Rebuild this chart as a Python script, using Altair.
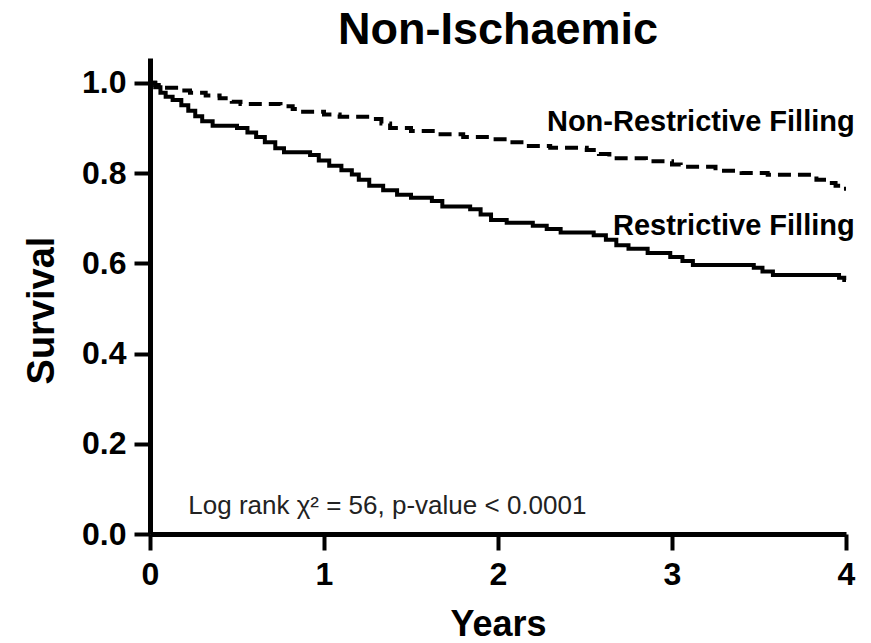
import altair as alt
import pandas as pd

# Kaplan-Meier step data
nr_years = [0, 0.03, 0.08, 0.15, 0.23, 0.32, 0.40, 0.47, 0.52, 0.75, 0.82, 0.86, 1.00, 1.09,
            1.28, 1.33, 1.38, 1.50, 1.65, 1.80, 1.95, 2.05, 2.15, 2.30, 2.51, 2.58, 2.64,
            2.85, 3.00, 3.05, 3.25, 3.40, 3.55, 3.83, 3.90, 3.94, 3.98, 4.00]
nr_surv = [1.0, 0.995, 0.989, 0.983, 0.978, 0.972, 0.966, 0.958, 0.953, 0.948, 0.942, 0.936,
           0.930, 0.925, 0.920, 0.910, 0.900, 0.893, 0.886, 0.880, 0.875, 0.868, 0.860, 0.856,
           0.851, 0.842, 0.833, 0.826, 0.819, 0.814, 0.805, 0.800, 0.796, 0.785, 0.778, 0.772,
           0.765, 0.765]

r_years = [0, 0.03, 0.06, 0.09, 0.13, 0.18, 0.22, 0.26, 0.30, 0.36, 0.50, 0.56, 0.61, 0.66,
           0.72, 0.77, 0.92, 0.97, 1.03, 1.10, 1.16, 1.20, 1.26, 1.34, 1.42, 1.50, 1.62, 1.68,
           1.84, 1.90, 1.96, 2.05, 2.20, 2.28, 2.36, 2.55, 2.62, 2.68, 2.75, 2.86, 2.99, 3.06,
           3.12, 3.47, 3.52, 3.58, 3.96, 3.99, 4.00]
r_surv = [1.0, 0.990, 0.978, 0.969, 0.962, 0.950, 0.938, 0.926, 0.915, 0.905, 0.900, 0.890,
          0.880, 0.868, 0.855, 0.846, 0.840, 0.828, 0.816, 0.806, 0.797, 0.785, 0.772, 0.762,
          0.752, 0.745, 0.738, 0.726, 0.720, 0.708, 0.696, 0.690, 0.683, 0.676, 0.668, 0.662,
          0.652, 0.640, 0.632, 0.623, 0.614, 0.605, 0.596, 0.590, 0.582, 0.574, 0.568, 0.563,
          0.563]

groups = ["Non-Restrictive Filling", "Restrictive Filling"]
x_ticks = [0, 1, 2, 3, 4]
y_ticks = [0.0, 0.2, 0.4, 0.6, 0.8, 1.0]
stat_text = "Log rank χ² = 56, p-value < 0.0001"
title_text = "Non-Ischaemic"

df = pd.concat([
    pd.DataFrame({"Years": nr_years, "Survival": nr_surv, "Group": groups[0]}),
    pd.DataFrame({"Years": r_years, "Survival": r_surv, "Group": groups[1]}),
], ignore_index=True)

FONT = "Liberation Sans"

x_enc = alt.X(
    "Years:Q",
    scale=alt.Scale(domain=[0, 4], nice=False, zero=False),
    axis=alt.Axis(
        values=x_ticks, format="d", grid=False, title="Years",
        domainColor="black", domainWidth=5, tickColor="black", tickWidth=4, tickSize=16,
        labelFont=FONT, labelFontSize=32, labelFontWeight="bold", labelColor="black",
        labelPadding=9, labelFlush=False,
        titleFont=FONT, titleFontSize=36, titleFontWeight="bold", titleColor="black",
        titleX=348, titleY=101, titleBaseline="alphabetic", titleAlign="center",
    ),
)
y_enc = alt.Y(
    "Survival:Q",
    scale=alt.Scale(domain=[0, 1.055], nice=False, zero=True),
    axis=alt.Axis(
        values=y_ticks, format=".1f", grid=False, title="Survival",
        domainColor="black", domainWidth=5, tickColor="black", tickWidth=4, tickSize=16,
        labelFont=FONT, labelFontSize=32, labelFontWeight="bold", labelColor="black",
        labelPadding=8, labelFlush=False,
        titleFont=FONT, titleFontSize=38, titleFontWeight="bold", titleColor="black",
        titleX=-97, titleY=252, titleBaseline="alphabetic", titleAlign="center", titleAngle=270,
    ),
)

lines = alt.Chart(df).mark_line(
    interpolate="step-after", color="black", strokeWidth=4
).encode(
    x=x_enc,
    y=y_enc,
    detail="Group:N",
    strokeDash=alt.StrokeDash(
        "Group:N",
        scale=alt.Scale(domain=groups, range=[[13, 7], [1, 0]]),
        legend=None,
    ),
)

lbl_nr = alt.Chart().mark_text(
    text=groups[0], font=FONT, fontSize=29, fontWeight="bold", color="black",
    align="right", baseline="alphabetic",
).encode(x=alt.datum(4.05), y=alt.datum(0.894))

lbl_r = alt.Chart().mark_text(
    text=groups[1], font=FONT, fontSize=29, fontWeight="bold", color="black",
    align="right", baseline="alphabetic",
).encode(x=alt.datum(4.05), y=alt.datum(0.662))

stat = alt.Chart().mark_text(
    text=stat_text, font=FONT, fontSize=26, color="#222222",
    align="left", baseline="alphabetic",
).encode(x=alt.datum(0.22), y=alt.datum(0.044))

chart = alt.layer(lines, lbl_nr, lbl_r, stat).properties(
    width=696,
    height=476,
    title=alt.Title(title_text, font=FONT, fontSize=45, fontWeight="bold", color="black",
                    anchor="middle", offset=5),
    autosize=alt.AutoSizeParams(type="none"),
    padding={"left": 150, "top": 58, "right": 25, "bottom": 109},
    background="white",
).configure_view(stroke=None)

chart.save("out.html", embed_options={"renderer": "svg", "actions": False})
